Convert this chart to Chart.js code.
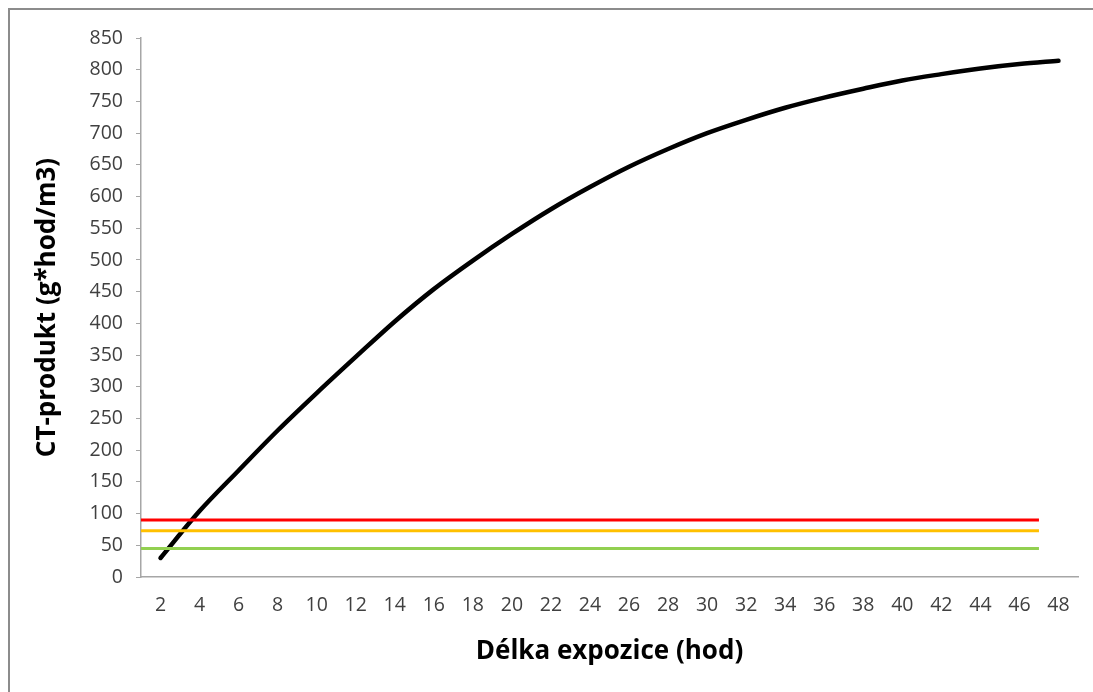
<!DOCTYPE html>
<html>
<head>
<meta charset="utf-8">
<script src="https://cdn.jsdelivr.net/npm/chart.js@4/dist/chart.umd.min.js"></script>
<style>
  html, body { margin: 0; padding: 0; background: #fff; overflow: hidden; }
  #frame { position: absolute; left: 8px; top: 8px; width: 1200px; height: 800px; border: 2px solid #8c8c8c; }
  #wrap { position: absolute; left: 0; top: 0; width: 1093px; height: 692px; }
</style>
</head>
<body>
<div id="frame"></div>
<div id="wrap"><canvas id="c" width="1093" height="692"></canvas></div>
<script>
// exposure length (hours) on the category axis
const hours = [2, 4, 6, 8, 10, 12, 14, 16, 18, 20, 22, 24, 26, 28, 30, 32, 34, 36, 38, 40, 42, 44, 46, 48]
// CT product
const ctValues = [30, 104, 168, 231, 290, 347, 403, 454, 499, 541, 580, 615, 647, 675, 700, 721, 740, 756, 770, 783, 793, 802, 809, 814]
// threshold levels
const redLevel = 90
const orangeLevel = 73
const greenLevel = 45
// horizontal span of the threshold lines (hours)
const levelSpan = [1, 47]

const levelLine = (value, color) => ({
  type: 'line',
  xAxisID: 'x2',
  data: levelSpan.map(h => ({ x: h, y: value })),
  borderColor: color,
  borderWidth: 3,
  pointRadius: 0,
  tension: 0
})

const font = 'Open Sans'

new Chart(document.getElementById('c'), {
  type: 'line',
  data: {
    labels: hours.map(String),
    datasets: [
      levelLine(greenLevel, '#92d050'),
      levelLine(orangeLevel, '#ffc000'),
      levelLine(redLevel, '#ff0000'),
      {
        data: ctValues,
        borderColor: '#000',
        borderWidth: 4.5,
        borderCapStyle: 'round',
        pointRadius: 0,
        cubicInterpolationMode: 'monotone'
      }
    ]
  },
  options: {
    responsive: false,
    animation: false,
    layout: { padding: { left: 32, top: 38, right: 15, bottom: 25 } },
    plugins: { legend: { display: false }, tooltip: { enabled: false } },
    scales: {
      x: {
        type: 'category',
        offset: true,
        grid: { display: true, drawOnChartArea: false, drawTicks: false },
        border: { color: '#a6a6a6', width: 1.5 },
        ticks: { color: '#404040', font: { family: font, size: 19.5 }, padding: 17, maxRotation: 0, autoSkip: false },
        title: { display: true, text: 'Délka expozice (hod)', color: '#000', font: { family: font, size: 26, weight: 'bold' }, padding: 0 },
        afterFit: scale => { scale.height = 90 }
      },
      x2: { type: 'linear', display: false, min: 1, max: 49 },
      y: {
        min: 0,
        max: 850,
        ticks: { stepSize: 50, color: '#404040', font: { family: font, size: 19.5 }, padding: 13 },
        grid: { drawOnChartArea: false, drawTicks: true, tickLength: 5, color: '#a6a6a6' },
        border: { color: '#a6a6a6', width: 1.5 },
        title: { display: true, text: 'CT-produkt (g*hod/m3)', color: '#000', font: { family: font, size: 26, weight: 'bold' }, padding: 0 },
        afterFit: scale => { scale.width = 109 }
      }
    }
  }
})
</script>
</body>
</html>
